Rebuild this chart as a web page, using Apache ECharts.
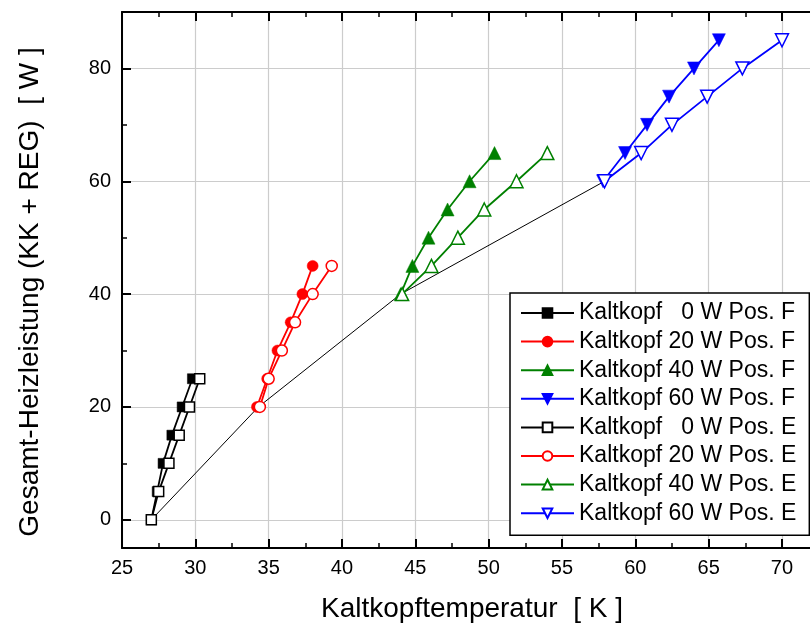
<!DOCTYPE html>
<html>
<head>
<meta charset="utf-8">
<script src="https://cdn.jsdelivr.net/npm/echarts@6/dist/echarts.min.js"></script>
<style>
  html, body { margin: 0; padding: 0; background: #fff; }
  #chart { width: 810px; height: 625px; }
</style>
</head>
<body>
<div id="chart"></div>
<script>
// heating power levels [W]
const p0 = [0, 5, 10, 15, 20, 25];
const p20 = [20, 25, 30, 35, 40, 45];
const p40 = [40, 45, 50, 55, 60, 65];
const p60 = [60, 65, 70, 75, 80, 85];

// cold head temperature [K], position F
const t0F = [27.0, 27.4, 27.8, 28.4, 29.1, 29.8];
const t20F = [34.2, 34.9, 35.6, 36.5, 37.3, 38.0];
const t40F = [44.0, 44.8, 45.9, 47.2, 48.7, 50.4];
const t60F = [57.8, 59.3, 60.8, 62.3, 64.0, 65.7];

// cold head temperature [K], position E
const t0E = [27.0, 27.5, 28.2, 28.9, 29.6, 30.3];
const t20E = [34.4, 35.0, 35.9, 36.8, 38.0, 39.3];
const t40E = [44.1, 46.1, 47.9, 49.7, 51.9, 54.0];
const t60E = [57.9, 60.4, 62.5, 64.9, 67.3, 70.0];

// connecting line through the first points
const tBase = [27.0, 34.3, 44.0, 57.9];
const pBase = [0, 20, 40, 60];

const font = "'Liberation Sans', Arial, sans-serif";

const zip = (xs, ys) => xs.map((x, i) => [x, ys[i]]);

function mkSeries(name, xs, ys, color, symbol, filled, size, rotate) {
  return {
    name: name,
    type: 'line',
    data: zip(xs, ys),
    symbol: symbol,
    symbolSize: size,
    symbolRotate: rotate || 0,
    showAllSymbol: true,
    lineStyle: { color: color, width: 1.8 },
    itemStyle: filled
      ? { color: color, borderColor: color, borderWidth: 0.5 }
      : { color: '#fff', borderColor: color, borderWidth: 1.5 },
    z: filled ? 3 : 4,
    animation: false
  };
}

const series = [
  {
    name: 'base',
    type: 'line',
    data: zip(tBase, pBase),
    symbol: 'none',
    lineStyle: { color: '#000', width: 1 },
    z: 2,
    animation: false
  },
  mkSeries('Kaltkopf   0 W Pos. F', t0F, p0, '#000000', 'rect', true, 10),
  mkSeries('Kaltkopf 20 W Pos. F', t20F, p20, '#ff0000', 'circle', true, 11),
  mkSeries('Kaltkopf 40 W Pos. F', t40F, p40, '#008000', 'triangle', true, 13),
  mkSeries('Kaltkopf 60 W Pos. F', t60F, p60, '#0000ff', 'triangle', true, 13, 180),
  mkSeries('Kaltkopf   0 W Pos. E', t0E, p0, '#000000', 'rect', false, 10),
  mkSeries('Kaltkopf 20 W Pos. E', t20E, p20, '#ff0000', 'circle', false, 11),
  mkSeries('Kaltkopf 40 W Pos. E', t40E, p40, '#008000', 'triangle', false, 13),
  mkSeries('Kaltkopf 60 W Pos. E', t60E, p60, '#0000ff', 'triangle', false, 13, 180)
];

const axisLine = { show: true, onZero: false, lineStyle: { color: '#000', width: 2 } };

const chart = echarts.init(document.getElementById('chart'), null, { renderer: 'canvas' });

chart.setOption({
  backgroundColor: '#fff',
  animation: false,
  // plot runs past the right edge of the picture (x up to 75 K)
  grid: { left: 122, top: 12, bottom: 77, width: 733.3, containLabel: false, outerBoundsMode: 'none' },
  legend: {
    data: series.slice(1).map(s => s.name),
    orient: 'vertical',
    left: 510,
    top: 293,
    padding: [7, 13, 9, 10],
    itemWidth: 53,
    itemHeight: 12,
    itemGap: 2.6,
    backgroundColor: '#fff',
    borderColor: '#000',
    borderWidth: 1.5,
    borderRadius: 0,
    textStyle: { fontFamily: font, fontSize: 23, lineHeight: 26, color: '#000' },
    selectedMode: false
  },
  xAxis: [
    {
      type: 'value',
      min: 25,
      max: 75,
      interval: 5,
      axisLine: axisLine,
      axisTick: { show: true, inside: true, length: 9, lineStyle: { color: '#000', width: 2 } },
      minorTick: { show: true, splitNumber: 2, length: 5, lineStyle: { color: '#000', width: 1.5 } },
      axisLabel: { fontFamily: font, fontSize: 20, color: '#000', margin: 10, showMaxLabel: false },
      splitLine: { show: true, lineStyle: { color: '#cccccc', width: 1.2 } }
    },
    {
      type: 'value',
      position: 'top',
      min: 25,
      max: 75,
      interval: 5,
      axisLine: axisLine,
      axisTick: { show: true, inside: true, length: 9, lineStyle: { color: '#000', width: 2 } },
      minorTick: { show: true, splitNumber: 2, length: 5, lineStyle: { color: '#000', width: 1.5 } },
      axisLabel: { show: false },
      splitLine: { show: false }
    }
  ],
  yAxis: {
    type: 'value',
    min: -5,
    max: 90,
    minInterval: 20,
    maxInterval: 20,
    axisLine: axisLine,
    axisTick: { show: true, inside: true, length: 9, lineStyle: { color: '#000', width: 2 } },
    minorTick: { show: true, splitNumber: 2, length: 5, lineStyle: { color: '#000', width: 1.5 } },
    axisLabel: { fontFamily: font, fontSize: 20, color: '#000', margin: 11, showMinLabel: false, showMaxLabel: false },
    splitLine: { show: true, lineStyle: { color: '#cccccc', width: 1.2 } }
  },
  graphic: [
    {
      type: 'text',
      x: 472,
      y: 609,
      style: {
        text: 'Kaltkopftemperatur  [ K ]',
        font: '28px ' + font,
        fill: '#000',
        align: 'center',
        verticalAlign: 'middle'
      }
    },
    {
      type: 'text',
      x: 30,
      y: 292,
      rotation: Math.PI / 2,
      style: {
        text: 'Gesamt-Heizleistung (KK + REG)  [ W ]',
        font: '28px ' + font,
        fill: '#000',
        align: 'center',
        verticalAlign: 'middle'
      }
    }
  ],
  series: series
});
</script>
</body>
</html>
